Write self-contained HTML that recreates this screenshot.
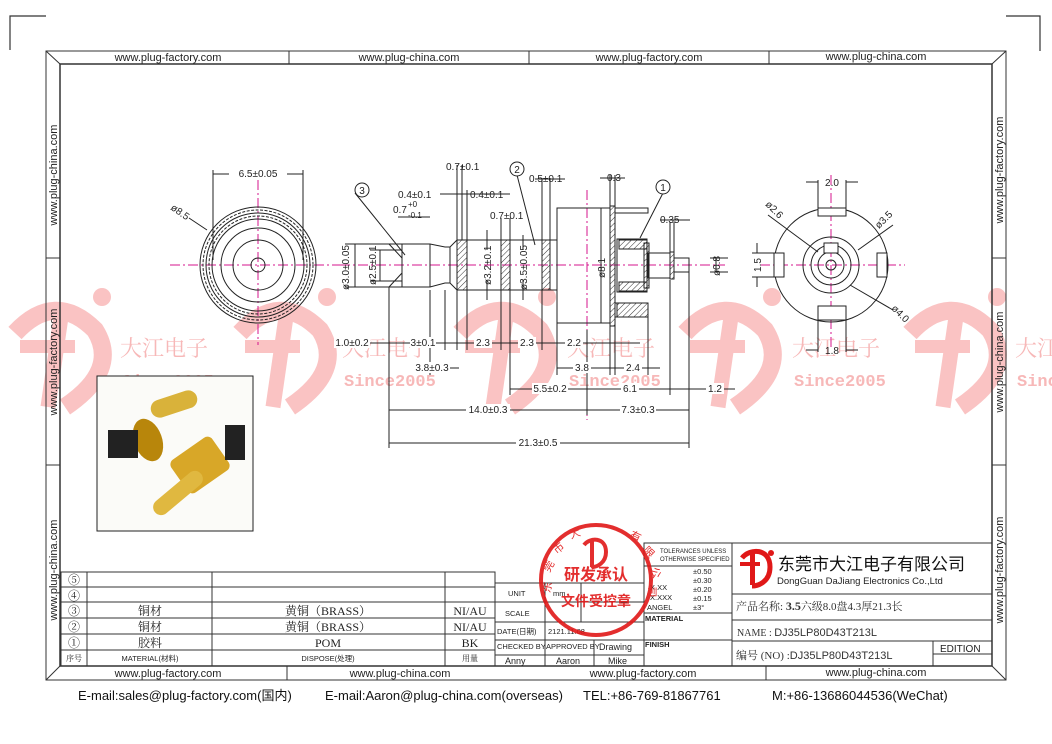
<!DOCTYPE html>
<html><head><meta charset="utf-8"><style>
html,body{margin:0;padding:0;background:#fff;}
svg{display:block;font-family:"Liberation Sans","Noto Sans CJK SC",sans-serif;}
.d{font-size:10px;fill:#222;}
.s{font-family:"Liberation Serif","Noto Serif CJK SC",serif;}
</style></head><body>
<svg width="1052" height="744" viewBox="0 0 1052 744" xmlns="http://www.w3.org/2000/svg">
<defs>
<pattern id="h" width="4" height="4" patternUnits="userSpaceOnUse" patternTransform="rotate(45)"><line x1="0" y1="0" x2="0" y2="4" stroke="#333" stroke-width="1"/></pattern>
<g id="wm">
<path d="M-45,-12 Q-5,-55 35,-15 Q60,25 5,62" fill="none" stroke="#fac3c3" stroke-width="18"/>
<path d="M2,-35 L-12,62" stroke="#fac3c3" stroke-width="15"/>
<rect x="-40" y="-5" width="55" height="13" fill="#fac3c3"/>
<circle cx="42" cy="-48" r="9" fill="#fac3c3"/>
</g>
<g id="wt"><text x="0" y="0" font-size="22" fill="#f7b8b8" class="s">大江电子</text><text x="2" y="30" font-size="17" font-weight="bold" fill="#f7b8b8" font-family="Liberation Mono,monospace">Since2005</text></g>
</defs>

<use href="#wm" x="60" y="345"/><use href="#wm" x="285" y="345"/><use href="#wm" x="505" y="345"/><use href="#wm" x="730" y="345"/><use href="#wm" x="955" y="345"/>
<use href="#wt" x="120" y="356"/><use href="#wt" x="342" y="356"/><use href="#wt" x="567" y="356"/><use href="#wt" x="792" y="356"/><use href="#wt" x="1015" y="356"/>

<path d="M10,50V16H46 M1006,16H1040V51" fill="none" stroke="#333" stroke-width="1.2"/>

<g fill="none" stroke="#333" stroke-width="1">
<rect x="46" y="51" width="960" height="629"/>
<rect x="60" y="64" width="932" height="602" stroke-width="1.5"/>
<path d="M46,51L60,64 M1006,51L992,64 M46,680L60,666 M1006,680L992,666"/>
<path d="M289,51V64 M529,51V64 M769,51V64"/>
<path d="M46,258H60 M46,465H60 M992,258H1006 M992,465H1006"/>
<path d="M287,666V680 M766,666V680"/>
</g>
<g font-size="11" fill="#222" text-anchor="middle">
<text x="168" y="61">www.plug-factory.com</text><text x="409" y="61">www.plug-china.com</text><text x="649" y="61">www.plug-factory.com</text><text x="876" y="60">www.plug-china.com</text>
<text x="168" y="677">www.plug-factory.com</text><text x="400" y="677">www.plug-china.com</text><text x="643" y="677">www.plug-factory.com</text><text x="876" y="676">www.plug-china.com</text>
<text transform="translate(57,175) rotate(-90)">www.plug-china.com</text>
<text transform="translate(57,362) rotate(-90)">www.plug-factory.com</text>
<text transform="translate(57,570) rotate(-90)">www.plug-china.com</text>
<text transform="translate(1003,170) rotate(-90)">www.plug-factory.com</text>
<text transform="translate(1003,362) rotate(-90)">www.plug-china.com</text>
<text transform="translate(1003,570) rotate(-90)">www.plug-factory.com</text>
</g>

<g stroke="#d4148c" stroke-width="1" stroke-dasharray="10,3,2,3">
<line x1="170" y1="265" x2="350" y2="265"/><line x1="258" y1="180" x2="258" y2="345"/>
<line x1="340" y1="265" x2="725" y2="265"/><line x1="587" y1="190" x2="587" y2="420"/>
<line x1="760" y1="265" x2="905" y2="265"/><line x1="831" y1="175" x2="831" y2="350"/>
</g>

<g fill="none" stroke="#222" stroke-width="1">
<circle cx="258" cy="265" r="58"/><circle cx="258" cy="265" r="55" stroke-dasharray="3,1.5"/>
<circle cx="258" cy="265" r="52"/><circle cx="258" cy="265" r="49" stroke-dasharray="3,1.5"/>
<circle cx="258" cy="265" r="46"/><circle cx="258" cy="265" r="37"/><circle cx="258" cy="265" r="25"/><circle cx="258" cy="265" r="7"/>
<path d="M213,260V170 M303,260V170 M213,174H303 M189,218L207,230"/>
</g>
<rect x="229" y="168" width="58" height="11" fill="#fff"/>
<text x="258" y="177" class="d" text-anchor="middle">6.5±0.05</text>
<text transform="translate(170,209) rotate(35)" class="d">ø8.5</text>

<g fill="none" stroke="#222" stroke-width="1">
<path d="M389,244H430L445,247H450L457,240H557 M389,287H430L445,283H450L457,290H557 M389,244L402,258V273L389,287 M402,244V287 M430,244V287 M450,247V283"/>
<rect x="557" y="208" width="53" height="115"/>
<rect x="610" y="206" width="5" height="120" fill="url(#h)"/>
<path d="M615,208H648V213H615 M615,303H648V317H615"/>
<rect x="617" y="239" width="30" height="53"/>
<rect x="619" y="240" width="28" height="9" fill="url(#h)"/><rect x="619" y="282" width="28" height="9" fill="url(#h)"/>
<rect x="617" y="303" width="31" height="14" fill="url(#h)"/>
<rect x="644" y="243" width="5" height="45" fill="url(#h)"/>
<rect x="648" y="253" width="22" height="25"/>
<rect x="670" y="252" width="4" height="27" fill="url(#h)"/>
<rect x="674" y="258" width="15" height="14"/>
<rect x="457" y="240" width="10" height="50" fill="url(#h)"/>
<rect x="501" y="240" width="9" height="50" fill="url(#h)"/>
<rect x="542" y="240" width="8" height="50" fill="url(#h)"/>
<path d="M467,240V290 M389,287V448 M689,272V448 M430,290V375 M445,290V350 M457,290V350 M467,290V350 M501,290V350 M510,290V395 M542,290V350 M557,323V375 M610,326V375 M615,326V375 M648,317V375 M670,280V395 M587,330V415"/>
<path d="M345,244H390 M345,287H390 M370,250H402 M370,281H402"/>
<path d="M457,240V165 M462,240V165 M467,240V190 M501,240V218 M510,240V218 M542,240V178 M550,240V178 M610,206V175 M615,206V175 M670,252V222 M674,252V222"/>
<path d="M355,193L405,255 M517,175L535,245 M663,193L640,238"/>
<path d="M338,343H640 M430,368H459 M557,368H660 M510,389H735 M389,410H689 M389,443H689 M398,217H430 M440,194H510 M535,179H565 M600,178H625 M660,220H690 M487,230V250 M487,280V300 M523,235V250 M523,280V300 M355,244V287 M380,250V281 M601,208V323 M716,258V272 M710,258H728 M710,272H728"/>
</g>
<g class="d">
<circle cx="362" cy="190" r="7" fill="#fff" stroke="#222"/><text x="362" y="194" text-anchor="middle">3</text>
<circle cx="517" cy="169" r="7" fill="#fff" stroke="#222"/><text x="517" y="173" text-anchor="middle">2</text>
<circle cx="663" cy="187" r="7" fill="#fff" stroke="#222"/><text x="663" y="191" text-anchor="middle">1</text>
<text x="446" y="170">0.7±0.1</text><text x="398" y="198">0.4±0.1</text><text x="470" y="198">0.4±0.1</text>
<text x="393" y="213">0.7</text><text x="408" y="207" font-size="8">+0</text><text x="408" y="218" font-size="8">-0.1</text>
<text x="529" y="182">0.5±0.1</text><text x="607" y="181">0.3</text><text x="660" y="223">0.35</text><text x="490" y="219">0.7±0.1</text>
<text transform="translate(349,290) rotate(-90)">ø3.0±0.05</text>
<text transform="translate(376,285) rotate(-90)">ø2.5±0.1</text>
<text transform="translate(491,285) rotate(-90)">ø3.2±0.1</text>
<text transform="translate(527,290) rotate(-90)">ø3.5±0.05</text>
<text transform="translate(605,278) rotate(-90)">ø8.1</text>
<text transform="translate(720,276) rotate(-90)">ø0.8</text>
</g>
<g class="d" text-anchor="middle">
<rect x="334" y="337" width="36" height="11" fill="#fff"/><text x="352" y="346">1.0±0.2</text>
<rect x="410" y="337" width="26" height="11" fill="#fff"/><text x="423" y="346">3±0.1</text>
<rect x="474" y="337" width="18" height="11" fill="#fff"/><text x="483" y="346">2.3</text>
<rect x="518" y="337" width="18" height="11" fill="#fff"/><text x="527" y="346">2.3</text>
<rect x="565" y="337" width="18" height="11" fill="#fff"/><text x="574" y="346">2.2</text>
<rect x="414" y="362" width="36" height="11" fill="#fff"/><text x="432" y="371">3.8±0.3</text>
<rect x="573" y="362" width="18" height="11" fill="#fff"/><text x="582" y="371">3.8</text>
<rect x="624" y="362" width="18" height="11" fill="#fff"/><text x="633" y="371">2.4</text>
<rect x="532" y="383" width="36" height="11" fill="#fff"/><text x="550" y="392">5.5±0.2</text>
<rect x="621" y="383" width="18" height="11" fill="#fff"/><text x="630" y="392">6.1</text>
<rect x="706" y="383" width="18" height="11" fill="#fff"/><text x="715" y="392">1.2</text>
<rect x="466" y="404" width="44" height="11" fill="#fff"/><text x="488" y="413">14.0±0.3</text>
<rect x="620" y="404" width="36" height="11" fill="#fff"/><text x="638" y="413">7.3±0.3</text>
<rect x="516" y="437" width="44" height="11" fill="#fff"/><text x="538" y="446">21.3±0.5</text>
</g>

<g fill="none" stroke="#222" stroke-width="1">
<circle cx="831" cy="265" r="57"/><circle cx="831" cy="265" r="28"/><circle cx="831" cy="265" r="20"/><circle cx="831" cy="265" r="13"/><circle cx="831" cy="265" r="5"/>
<rect x="818" y="208" width="28" height="8" fill="#fff"/><rect x="818" y="306" width="28" height="14" fill="#fff"/>
<rect x="774" y="253" width="10" height="24" fill="#fff"/><rect x="877" y="253" width="10" height="24" fill="#fff"/>
<rect x="824" y="243" width="14" height="10" fill="#fff"/>
<path d="M818,208V180 M846,208V180 M806,182H818 M846,182H858 M818,320V352 M846,320V352 M806,350H818 M846,350H858 M774,253H752 M774,277H752 M757,243V253 M757,277V287 M768,215L818,252 M893,225L858,250 M893,310L850,285"/>
</g>
<g class="d" text-anchor="middle">
<text x="832" y="186">2.0</text><text x="832" y="354">1.8</text>
<text transform="translate(772,212) rotate(45)">ø2.6</text>
<text transform="translate(886,222) rotate(-45)">ø3.5</text>
<text transform="translate(898,316) rotate(45)">ø4.0</text>
<text transform="translate(761,265) rotate(-90)">1.5</text>
</g>

<rect x="97" y="376" width="156" height="155" fill="#fbfbf8" stroke="#222"/>
<g>
<rect x="150" y="395" width="48" height="18" rx="9" transform="rotate(-18 174 404)" fill="#d9b23a"/>
<ellipse cx="148" cy="440" rx="14" ry="22" fill="#b8860b" transform="rotate(-20 148 440)"/>
<rect x="108" y="430" width="30" height="28" fill="#222"/>
<rect x="175" y="445" width="50" height="40" rx="6" fill="#d8a728" transform="rotate(-35 200 465)"/>
<rect x="148" y="485" width="60" height="16" rx="8" fill="#e0b840" transform="rotate(-40 178 493)"/>
<rect x="225" y="425" width="20" height="35" fill="#222"/>
</g>

<g fill="none" stroke="#333" stroke-width="1">
<rect x="61" y="572" width="434" height="94"/>
<path d="M61,587H495 M61,602H495 M61,618H495 M61,634H495 M61,650H495 M87,572V666 M212,572V666 M445,572V666"/>
<rect x="495" y="583" width="149" height="83"/>
<path d="M495,602H644 M495,622H644 M495,640H644 M495,655H644 M545,583V622 M581,583V622 M545,640V666 M594,640V666 M545,622V640"/>
<rect x="644" y="543" width="88" height="123"/>
<path d="M644,566H732 M644,613H732 M644,640H732"/>
<rect x="732" y="543" width="260" height="123"/>
<path d="M732,594H992 M732,620H992 M732,641H992 M933,641V666 M933,654H992"/>
</g>
<g font-size="12" text-anchor="middle" class="s" fill="#222">
<text x="74" y="584">⑤</text><text x="74" y="600">④</text><text x="74" y="615">③</text><text x="74" y="631">②</text><text x="74" y="647">①</text>
<text x="150" y="615">铜材</text><text x="150" y="631">铜材</text><text x="150" y="647">胶料</text>
<text x="328" y="615">黄铜（BRASS）</text><text x="328" y="631">黄铜（BRASS）</text><text x="328" y="647">POM</text>
<text x="470" y="615">NI/AU</text><text x="470" y="631">NI/AU</text><text x="470" y="647">BK</text>
<text x="74" y="661" font-size="8">序号</text><text x="470" y="661" font-size="8">用量</text>
</g>
<g font-size="7.5" fill="#222">
<text x="150" y="661" text-anchor="middle">MATERIAL(材料)</text><text x="328" y="661" text-anchor="middle">DISPOSE(处理)</text>
<text x="508" y="596">UNIT</text><text x="505" y="616">SCALE</text><text x="497" y="634">DATE(日期)</text><text x="548" y="634">2121.11.08</text>
<text x="497" y="649">CHECKED BY</text><text x="546" y="649">APPROVED BY</text><text x="599" y="650" font-size="9">Drawing</text>
<text x="505" y="664" font-size="9">Anny</text><text x="556" y="664" font-size="9">Aaron</text><text x="608" y="664" font-size="9">Mike</text>
<text x="553" y="596">mm</text>
<text x="660" y="553" font-size="6">TOLERANCES UNLESS</text><text x="660" y="561" font-size="6">OTHERWISE SPECIFIED</text>
<text x="693" y="574">±0.50</text><text x="693" y="583">±0.30</text><text x="693" y="592">±0.20</text><text x="693" y="601">±0.15</text><text x="693" y="610">±3°</text>
<text x="650" y="590">X.XX</text><text x="650" y="600">X.XXX</text><text x="647" y="610">ANGEL</text>
<text x="645" y="621" font-weight="bold">MATERIAL</text><text x="645" y="647" font-weight="bold">FINISH</text>
</g>
<path d="M742,558 C750,548 770,548 770,567 C770,582 758,586 752,586" fill="none" stroke="#e01818" stroke-width="5"/>
<rect x="750" y="552" width="5" height="33" fill="#e01818"/><rect x="740" y="562" width="20" height="4" fill="#e01818"/><circle cx="771" cy="553" r="3" fill="#e01818"/>
<text x="778" y="570" font-size="17" fill="#111">东莞市大江电子有限公司</text>
<text x="777" y="584" font-size="9.5" fill="#222">DongGuan DaJiang Electronics Co.,Ltd</text>
<text x="736" y="610" font-size="11" class="s" fill="#333">产品名称: <tspan font-weight="bold" font-size="12">3.5</tspan>六级8.0盘4.3厚21.3长</text>
<text x="737" y="636" font-size="10" class="s" fill="#333">NAME  : <tspan font-family="Liberation Sans" font-size="11">DJ35LP80D43T213L</tspan></text>
<text x="736" y="659" font-size="11" class="s" fill="#333">编号 (NO) :<tspan font-family="Liberation Sans">DJ35LP80D43T213L</tspan></text>
<text x="940" y="652" font-size="10" fill="#222">EDITION</text>

<g opacity="0.9">
<circle cx="596" cy="580" r="55" fill="none" stroke="#e01818" stroke-width="4"/>
<path d="M584,545 C590,537 606,537 606,552 C606,563 597,567 592,567" fill="none" stroke="#e01818" stroke-width="4"/>
<rect x="590" y="540" width="4" height="27" fill="#e01818"/>
<text x="596" y="580" font-size="16" font-weight="bold" fill="#e01818" text-anchor="middle">研发承认</text>
<text x="596" y="606" font-size="14" font-weight="bold" fill="#e01818" text-anchor="middle">文件受控章</text>
<g font-size="11" fill="#e01818" text-anchor="middle">
<text transform="translate(551,588) rotate(-80)">东</text><text transform="translate(552,568) rotate(-60)">莞</text><text transform="translate(561,551) rotate(-40)">市</text>
<text transform="translate(576,537) rotate(-20)">大</text><text transform="translate(634,540) rotate(25)">有</text><text transform="translate(646,555) rotate(45)">限</text><text transform="translate(652,574) rotate(70)">公</text><text transform="translate(648,592) rotate(90)">司</text>
</g>
</g>

<g font-size="13" fill="#111">
<text x="78" y="700">E-mail:sales@plug-factory.com(国内)</text>
<text x="325" y="700">E-mail:Aaron@plug-china.com(overseas)</text>
<text x="583" y="700">TEL:+86-769-81867761</text>
<text x="772" y="700">M:+86-13686044536(WeChat)</text>
</g>
</svg>
</body></html>
